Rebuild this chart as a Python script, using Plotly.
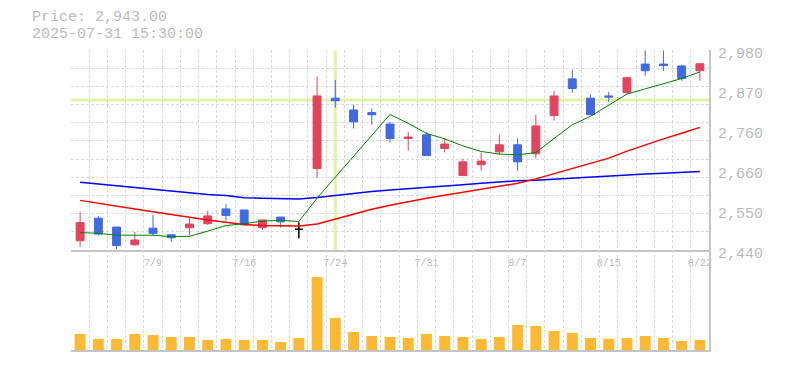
import plotly.graph_objects as go

# ---------------- data ----------------
dates = ["2025-07-03", "2025-07-04", "2025-07-07", "2025-07-08", "2025-07-09", "2025-07-10",
         "2025-07-11", "2025-07-14", "2025-07-15", "2025-07-16", "2025-07-17", "2025-07-18",
         "2025-07-22", "2025-07-23", "2025-07-24", "2025-07-25", "2025-07-28", "2025-07-29",
         "2025-07-30", "2025-07-31", "2025-08-01", "2025-08-04", "2025-08-05", "2025-08-06",
         "2025-08-07", "2025-08-08", "2025-08-12", "2025-08-13", "2025-08-14", "2025-08-15",
         "2025-08-18", "2025-08-19", "2025-08-20", "2025-08-21", "2025-08-22"]

open_ = [2465, 2526, 2502, 2454, 2499, 2481, 2500, 2511, 2551, 2548, 2500, 2529, 2496, 2660,
         2850, 2818, 2811, 2780, 2741, 2751, 2714, 2641, 2670, 2705, 2724, 2700, 2803, 2902,
         2850, 2856, 2865, 2942, 2942, 2937, 2924]
high = [2543, 2532, 2502, 2489, 2535, 2481, 2526, 2546, 2564, 2548, 2521, 2529, 2515, 2908,
        2899, 2832, 2822, 2786, 2759, 2758, 2742, 2686, 2703, 2751, 2742, 2805, 2869, 2926,
        2859, 2867, 2908, 2979, 2979, 2940, 2945]
low = [2449, 2479, 2442, 2452, 2479, 2462, 2479, 2508, 2519, 2505, 2494, 2500, 2472, 2635,
       2824, 2768, 2778, 2730, 2708, 2695, 2703, 2641, 2654, 2697, 2654, 2687, 2789, 2865,
       2805, 2840, 2861, 2911, 2924, 2897, 2897]
close = [2514, 2483, 2452, 2467, 2485, 2473, 2510, 2532, 2533, 2508, 2521, 2516, 2496, 2856,
         2843, 2786, 2805, 2741, 2745, 2695, 2726, 2678, 2680, 2724, 2678, 2775, 2856, 2876,
         2805, 2853, 2905, 2924, 2938, 2903, 2943]

ma5 = [2487, 2485, 2480, 2480, 2480, 2476, 2477, 2491, 2506, 2511, 2518, 2520, 2517, 2580,
       2637, 2694, 2750, 2806, 2782, 2755, 2740, 2721, 2706, 2699, 2697, 2703, 2741, 2778,
       2801, 2831, 2861, 2875, 2888, 2903, 2921]
ma25 = [2574, 2567, 2559, 2551, 2543, 2535, 2528, 2521, 2515, 2509, 2506, 2505, 2505, 2510,
        2523, 2538, 2550, 2561, 2571, 2580, 2588, 2596, 2605, 2614, 2620, 2632, 2646, 2661,
        2674, 2688, 2707, 2724, 2740, 2755, 2771]
ma75 = [2623, 2618, 2614, 2610, 2605, 2600, 2595, 2590, 2587, 2581, 2580, 2578, 2578, 2582,
        2588, 2594, 2598, 2602, 2605, 2609, 2613, 2616, 2620, 2624, 2627, 2628, 2631, 2635,
        2638, 2640, 2643, 2645, 2647, 2649, 2652]

volume = [160, 110, 110, 160, 150, 130, 130, 100, 110, 100, 100, 80, 120, 730, 320, 180, 140,
          130, 120, 160, 140, 130, 110, 130, 250, 240, 190, 170, 120, 110, 120, 140, 120, 90, 100]

tick_labels = ["7/9", "7/16", "7/24", "7/31", "8/7", "8/15", "8/22"]
price_ticks = [2440, 2548, 2656, 2764, 2872, 2980]
price_tick_text = ["2,440", "2,550", "2,660", "2,760", "2,870", "2,980"]

cursor_date = "2025-07-24"
cursor_price = 2845
header_price = "Price: 2,943.00"
header_time = "2025-07-31 15:30:00"

# ---------------- styling ----------------
RED = "#e2445f"
BLUE = "#4169e1"
VOL = "#fdb933"
GRID = "#d9d9d9"
AXIS = "#c4c4c4"
TEXT = "#bbbbbb"
FONT = "Liberation Mono"

n = len(dates)
idx = list(range(n))
md = [f"{int(d[5:7])}/{int(d[8:10])}" for d in dates]
tickpos = [md.index(t) for t in tick_labels]
cursor_x = dates.index(cursor_date)

ymin, ymax = price_ticks[0], price_ticks[-1]
grid_y = [ymin + k * (ymax - ymin) / 11 for k in range(12)]
grid_x = [i - 0.5 for i in range(n + 1)]

normal = [i for i in idx if open_[i] != close[i]]
doji = [i for i in idx if open_[i] == close[i]]

fig = go.Figure()

fig.add_trace(go.Candlestick(
    x=normal, open=[open_[i] for i in normal], high=[high[i] for i in normal],
    low=[low[i] for i in normal], close=[close[i] for i in normal],
    increasing=dict(line=dict(color=RED, width=1), fillcolor=RED),
    decreasing=dict(line=dict(color=BLUE, width=1), fillcolor=BLUE),
    whiskerwidth=0, xaxis="x", yaxis="y", showlegend=False, hoverinfo="skip"))

fig.add_trace(go.Candlestick(
    x=doji, open=[open_[i] for i in doji], high=[high[i] for i in doji],
    low=[low[i] for i in doji], close=[close[i] for i in doji],
    increasing=dict(line=dict(color="#000000", width=1.5), fillcolor="#000000"),
    decreasing=dict(line=dict(color="#000000", width=1.5), fillcolor="#000000"),
    whiskerwidth=0, xaxis="x", yaxis="y", showlegend=False, hoverinfo="skip"))

for vals, col, w in [(ma75, "#0000ff", 1.5), (ma25, "#ff0000", 1.5), (ma5, "#008000", 1)]:
    fig.add_trace(go.Scatter(x=idx, y=vals, mode="lines", line=dict(color=col, width=w),
                             xaxis="x", yaxis="y3", showlegend=False, hoverinfo="skip"))

fig.add_trace(go.Bar(x=idx, y=volume, marker=dict(color=VOL, line=dict(width=0)), width=0.6,
                     xaxis="x2", yaxis="y2", showlegend=False, hoverinfo="skip"))

minor_x = dict(tickvals=grid_x, showgrid=True, gridcolor=GRID, griddash="3px,2px",
               gridwidth=1, ticks="")

fig.update_layout(
    width=785, height=370,
    margin=dict(l=71, r=76, t=50, b=20, autoexpand=False),
    paper_bgcolor="white", plot_bgcolor="white",
    boxgap=0.38,
    showlegend=False,
    font=dict(family=FONT, color=TEXT),
    xaxis=dict(domain=[0, 1], anchor="y", range=[-0.5, n - 0.5], tickmode="array",
               tickvals=tickpos, ticktext=tick_labels, showgrid=False, minor=minor_x,
               showline=True, linecolor=AXIS, linewidth=1.5, ticks="", zeroline=False,
               tickfont=dict(family=FONT, size=10, color=TEXT), ticklabelstandoff=2,
               rangeslider=dict(visible=False), fixedrange=True, automargin=False),
    yaxis=dict(domain=[1 / 3, 1], anchor="x", range=[ymin, ymax], tickmode="array",
               tickvals=grid_y, showticklabels=False, showgrid=True, gridcolor=GRID,
               griddash="3px,2px", gridwidth=1, side="right", showline=True,
               linecolor=AXIS, linewidth=1.5, zeroline=False, ticks="", automargin=False),
    yaxis3=dict(overlaying="y", anchor="x", side="right", range=[ymin, ymax],
                tickmode="array", tickvals=price_ticks, ticktext=price_tick_text,
                showgrid=False, zeroline=False, ticks="", showline=False,
                tickfont=dict(family=FONT, size=15, color=TEXT),
                ticklabelstandoff=8, ticklabelshift=3, automargin=False),
    xaxis2=dict(domain=[0, 1], anchor="y2", matches="x", range=[-0.5, n - 0.5],
                showticklabels=False, showgrid=False, minor=minor_x, showline=True,
                linecolor=AXIS, linewidth=2, ticks="", zeroline=False, automargin=False),
    yaxis2=dict(domain=[0, 1 / 3], anchor="x2", range=[0, 1000], showgrid=False,
                showticklabels=False, side="right", showline=True, linecolor=AXIS,
                linewidth=1.5, zeroline=False, ticks="", automargin=False),
    shapes=[
        dict(type="line", xref="x", yref="y domain", x0=cursor_x, x1=cursor_x, y0=0, y1=1,
             line=dict(color="#e3f3a6", width=3), layer="below"),
        dict(type="line", xref="x domain", yref="y", x0=0, x1=1, y0=cursor_price,
             y1=cursor_price, line=dict(color="#e3f3a6", width=3), layer="below"),
    ],
    annotations=[
        dict(text=header_price, xref="paper", yref="paper", x=-41 / 638, y=(350 - 18) / 300,
             xanchor="left", yanchor="middle", showarrow=False,
             font=dict(family=FONT, size=15, color=TEXT)),
        dict(text=header_time, xref="paper", yref="paper", x=-41 / 638, y=(350 - 34) / 300,
             xanchor="left", yanchor="middle", showarrow=False,
             font=dict(family=FONT, size=15, color=TEXT)),
    ],
)

fig.write_html("out.html", config={"displayModeBar": False},
               post_script="document.body.style.margin='0';")
